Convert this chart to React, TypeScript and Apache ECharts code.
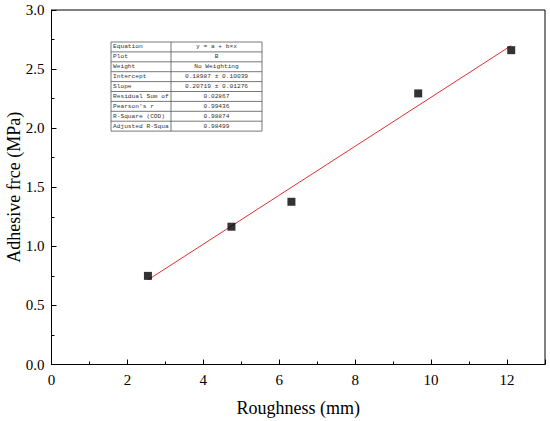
import React, { useEffect, useRef } from "react";
import * as echarts from "echarts";

const roughness = [2.54, 4.74, 6.32, 9.66, 12.11];
const adhesive = [0.75, 1.166, 1.377, 2.294, 2.66];
const fitX = [2.54, 12.11];
const fitY = [0.716, 2.699];
const tableLabels = [
  "Equation",
  "Plot",
  "Weight",
  "Intercept",
  "Slope",
  "Residual Sum of",
  "Pearson's r",
  "R-Square (COD)",
  "Adjusted R-Squa",
];
const tableValues = [
  "y = a + b\u00d7x",
  "B",
  "No Weighting",
  "0.18987 \u00b1 0.10039",
  "0.20719 \u00b1 0.01276",
  "0.02867",
  "0.99436",
  "0.98874",
  "0.98499",
];

export default function App() {
  const ref = useRef<HTMLDivElement>(null);
  useEffect(() => {
    if (!ref.current) return;
    const chart = echarts.init(ref.current, null, { renderer: "svg" });
    const tx0 = 111, tx1 = 171, tx2 = 262, ty0 = 42, rowH = 9.9;
    const ty1 = ty0 + rowH * tableLabels.length;
    const graphics: any[] = [
      { type: "rect", shape: { x: tx0, y: ty0, width: tx2 - tx0, height: ty1 - ty0 }, style: { fill: "#fff", stroke: "#555", lineWidth: 0.8 }, z: 10 },
      { type: "line", shape: { x1: tx1, y1: ty0, x2: tx1, y2: ty1 }, style: { stroke: "#555", lineWidth: 0.8 }, z: 11 },
    ];
    for (let i = 1; i < tableLabels.length; i++) {
      graphics.push({ type: "line", shape: { x1: tx0, y1: ty0 + i * rowH, x2: tx2, y2: ty0 + i * rowH }, style: { stroke: "#555", lineWidth: 0.8 }, z: 11 });
    }
    tableLabels.forEach((t, i) => {
      graphics.push({ type: "text", x: tx0 + 2, y: ty0 + i * rowH + rowH / 2, style: { text: t, font: "6.2px 'Liberation Mono'", fill: "#333", verticalAlign: "middle", align: "left" }, z: 12 });
    });
    tableValues.forEach((t, i) => {
      graphics.push({ type: "text", x: (tx1 + tx2) / 2, y: ty0 + i * rowH + rowH / 2, style: { text: t, font: "6.2px 'Liberation Mono'", fill: "#333", verticalAlign: "middle", align: "center" }, z: 12 });
    });
    const axisFont = { fontFamily: "Liberation Serif", fontSize: 15, color: "#000" };
    chart.setOption({
      animation: false,
      backgroundColor: "#fff",
      grid: { left: 51.5, right: 5, top: 10, bottom: 56.5, show: true, borderColor: "#000", borderWidth: 1, containLabel: false, outerBoundsMode: "none" },
      xAxis: {
        type: "value", min: 0, max: 13, interval: 2,
        name: "Roughness (mm)", nameLocation: "middle", nameGap: 34, nameMoveOverlap: false,
        nameTextStyle: { fontFamily: "Liberation Serif", fontSize: 18, color: "#000" },
        axisLine: { lineStyle: { color: "#000" } },
        axisTick: { inside: true, length: 5, lineStyle: { color: "#000" } },
        minorTick: { show: true, splitNumber: 2, length: 3, lineStyle: { color: "#000" } },
        axisLabel: { ...axisFont, margin: 8, showMaxLabel: false },
        splitLine: { show: false },
      },
      yAxis: {
        type: "value", min: 0, max: 3, interval: 0.5,
        name: "Adhesive frce (MPa)", nameLocation: "middle", nameGap: 29, nameMoveOverlap: false,
        nameTextStyle: { fontFamily: "Liberation Serif", fontSize: 18, color: "#000" },
        axisLine: { show: true, lineStyle: { color: "#000" } },
        axisTick: { show: true, inside: true, length: 5, lineStyle: { color: "#000" } },
        minorTick: { show: true, splitNumber: 2, length: 3, lineStyle: { color: "#000" } },
        axisLabel: { ...axisFont, margin: 7, formatter: (v: number) => v.toFixed(1) },
        splitLine: { show: false },
      },
      series: [
        {
          type: "line",
          data: fitX.map((x, i) => [x, fitY[i]]),
          symbol: "none",
          lineStyle: { color: "#e03030", width: 1 },
          z: 2,
        },
        {
          type: "scatter",
          data: roughness.map((x, i) => [x, adhesive[i]]),
          symbol: "rect",
          symbolSize: 8,
          itemStyle: { color: "#000" },
          z: 3,
        },
      ],
      graphic: graphics,
    });
    return () => chart.dispose();
  }, []);
  return <div ref={ref} style={{ position: "absolute", left: 0, top: 0, width: 550, height: 421 }} />;
}
